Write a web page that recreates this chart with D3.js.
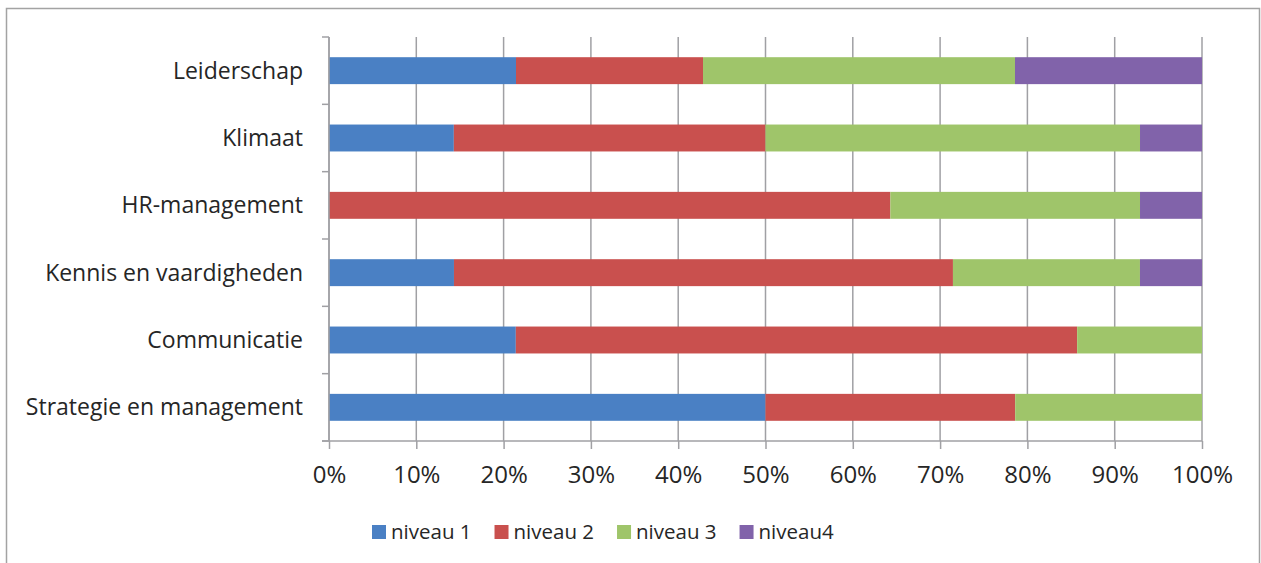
<!DOCTYPE html>
<html>
<head>
<meta charset="utf-8">
<script src="https://cdn.jsdelivr.net/npm/d3@7"></script>
<style>
  body { margin: 0; background: #fff; }
  text { font-family: "Open Sans", sans-serif; fill: #262626; }
</style>
</head>
<body>
<div id="chart"></div>
<script>
// categories, top to bottom
var categories = ["Leiderschap", "Klimaat", "HR-management", "Kennis en vaardigheden", "Communicatie", "Strategie en management"];
var series = ["niveau 1", "niveau 2", "niveau 3", "niveau4"];
var colors = ["#4a80c4", "#c9504e", "#9fc56a", "#8163aa"];

// percentages per level
var niveau1 = [21.4, 14.3, 0, 14.3, 21.4, 50.0];
var niveau2 = [21.4, 35.7, 64.3, 57.1, 64.3, 28.6];
var niveau3 = [35.7, 42.9, 28.6, 21.4, 14.3, 21.4];
var niveau4 = [21.4, 7.1, 7.1, 7.1, 0, 0];

var xTicks = [0, 0.1, 0.2, 0.3, 0.4, 0.5, 0.6, 0.7, 0.8, 0.9, 1];

var W = 1261, H = 563;
var plotLeft = 329, plotRight = 1202, plotTop = 37, plotBottom = 441;

var data = categories.map(function(c, i) {
  return {cat: c, "niveau 1": niveau1[i], "niveau 2": niveau2[i], "niveau 3": niveau3[i], "niveau4": niveau4[i]};
});

var stack = d3.stack().keys(series).offset(d3.stackOffsetExpand);
var layers = stack(data);

var x = d3.scaleLinear().domain([0, 1]).range([plotLeft, plotRight]);
var y = d3.scaleBand().domain(categories).range([plotTop, plotBottom]).paddingInner(0.6).paddingOuter(0.3);
var color = d3.scaleOrdinal().domain(series).range(colors);

var svg = d3.select("#chart").append("svg")
    .attr("width", W)
    .attr("height", H);

// outer frame
svg.append("rect")
    .attr("x", 6.5).attr("y", 8.5)
    .attr("width", 1253).attr("height", 600)
    .attr("fill", "none")
    .attr("stroke", "#a3a3a3")
    .attr("stroke-width", 1.5);

// vertical gridlines
svg.append("g")
  .selectAll("line")
  .data(xTicks)
  .enter().append("line")
    .attr("x1", function(d) { return x(d); })
    .attr("x2", function(d) { return x(d); })
    .attr("y1", plotTop)
    .attr("y2", plotBottom)
    .attr("stroke", "#a0a0a4")
    .attr("stroke-width", 1.5);

// bars
svg.append("g")
  .selectAll("g")
  .data(layers)
  .enter().append("g")
    .attr("fill", function(d) { return color(d.key); })
  .selectAll("rect")
  .data(function(d) { return d; })
  .enter().append("rect")
    .attr("x", function(d) { return x(d[0]); })
    .attr("y", function(d) { return y(d.data.cat); })
    .attr("width", function(d) { return x(d[1]) - x(d[0]); })
    .attr("height", y.bandwidth());

// x axis
var xAxis = svg.append("g")
    .attr("transform", "translate(0," + plotBottom + ")")
    .call(d3.axisBottom(x).tickValues(xTicks).tickFormat(d3.format(".0%")).tickSize(8).tickPadding(17));
xAxis.select(".domain").attr("stroke", "#a0a0a4").attr("stroke-width", 1.5)
    .attr("d", "M" + (plotLeft - 7) + ",0H" + plotRight);
xAxis.selectAll(".tick line").attr("stroke", "#a0a0a4").attr("stroke-width", 1.5);
xAxis.selectAll(".tick text").style("font-size", "24px").attr("fill", "#262626")
    .style("font-family", "'Open Sans', sans-serif");

// y axis: ticks at band boundaries
var yAxis = svg.append("g").attr("transform", "translate(" + plotLeft + ",0)");
yAxis.append("line")
    .attr("x1", 0).attr("x2", 0).attr("y1", plotTop).attr("y2", plotBottom)
    .attr("stroke", "#a0a0a4").attr("stroke-width", 1.5);
yAxis.selectAll(".bt")
  .data(d3.range(categories.length + 1))
  .enter().append("line")
    .attr("x1", -7).attr("x2", 0)
    .attr("y1", function(i) { return plotTop + i * y.step(); })
    .attr("y2", function(i) { return plotTop + i * y.step(); })
    .attr("stroke", "#a0a0a4").attr("stroke-width", 1.5);
yAxis.selectAll(".lbl")
  .data(categories)
  .enter().append("text")
    .attr("x", -26)
    .attr("y", function(d) { return y(d) + y.bandwidth() / 2; })
    .attr("dy", "0.35em")
    .attr("text-anchor", "end")
    .style("font-size", "23px")
    .text(function(d) { return d; });

// legend
var legend = svg.append("g").attr("transform", "translate(372,532)");
var lx = 0;
series.forEach(function(s) {
  var g = legend.append("g").attr("transform", "translate(" + lx + ",0)");
  g.append("rect").attr("x", 0).attr("y", -7).attr("width", 14).attr("height", 14).attr("fill", color(s));
  var t = g.append("text").attr("x", 19).attr("dy", "0.35em").style("font-size", "20.5px").text(s);
  lx += 19 + t.node().getComputedTextLength() + 23;
});
</script>
</body>
</html>
